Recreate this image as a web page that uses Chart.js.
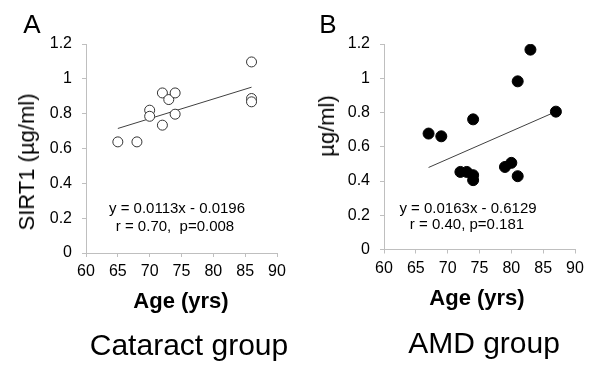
<!DOCTYPE html>
<html>
<head>
<meta charset="utf-8">
<script src="https://cdn.jsdelivr.net/npm/chart.js@4"></script>
<style>
  html, body { margin:0; padding:0; background:#fff; }
  #wrap { position:relative; width:600px; height:369px; overflow:hidden; font-family:"Liberation Sans", Arial, sans-serif; color:#000; }
  canvas { position:absolute; top:0; }
  .t { position:absolute; transform:translate(-50%,-50%); white-space:pre; line-height:1; }
  .rot { position:absolute; transform:translate(-50%,-50%) rotate(-90deg); white-space:pre; line-height:1; }
</style>
</head>
<body>
<div id="wrap">
  <canvas id="cA" width="300" height="369" style="left:0"></canvas>
  <canvas id="cB" width="300" height="369" style="left:300px"></canvas>
  <div class="t" style="left:32px;top:24px;font-size:26px;">A</div>
  <div class="t" style="left:328px;top:24px;font-size:26px;">B</div>
  <div class="rot" style="left:27px;top:162px;font-size:22px;">SIRT1 (µg/ml)</div>
  <div class="rot" style="left:327px;top:126px;font-size:22px;">µg/ml)</div>
  <div class="t" style="left:177px;top:207px;font-size:15px;">y = 0.0113x - 0.0196</div>
  <div class="t" style="left:175px;top:225px;font-size:15px;">r = 0.70,  p=0.008</div>
  <div class="t" style="left:468px;top:207px;font-size:15px;">y = 0.0163x - 0.6129</div>
  <div class="t" style="left:467px;top:223px;font-size:15px;">r = 0.40, p=0.181</div>
  <div class="t" style="left:181px;top:301px;font-size:22px;font-weight:bold;">Age (yrs)</div>
  <div class="t" style="left:477px;top:298px;font-size:22px;font-weight:bold;">Age (yrs)</div>
  <div class="t" style="left:189px;top:345px;font-size:30px;">Cataract group</div>
  <div class="t" style="left:484px;top:343px;font-size:30px;">AMD group</div>
</div>
<script>
// ---- data ----
const ageA  = [65, 68, 70, 70, 72, 72, 73, 74, 74, 86, 86, 86];
const sirtA = [0.638, 0.638, 0.82, 0.785, 0.919, 0.734, 0.881, 0.919, 0.797, 1.097, 0.887, 0.868];
const trendAgeA  = [65, 86];
const trendSirtA = [0.715, 0.952];

const ageB  = [67, 69, 74, 72, 73, 74, 74, 79, 80, 81, 81, 83, 87];
const sirtB = [0.677, 0.661, 0.760, 0.453, 0.453, 0.434, 0.405, 0.482, 0.506, 0.428, 0.982, 1.167, 0.805];
const trendAgeB  = [67, 87];
const trendSirtB = [0.479, 0.805];

const xMin = 60, xMax = 90, xStep = 5;
const yMin = 0, yMax = 1.2, yStep = 0.2;

const FONT = '"Liberation Sans", Arial, sans-serif';
const AXIS = '#bfbfbf';

function pts(xs, ys) { return xs.map((x, i) => ({ x: x, y: ys[i] })); }

function makeChart(id, xs, ys, txs, tys, filled, geom) {
  new Chart(document.getElementById(id), {
    type: 'scatter',
    data: {
      datasets: [
        {
          type: 'line',
          data: pts(txs, tys),
          borderColor: '#404040',
          borderWidth: 1,
          pointRadius: 0,
          fill: false,
          order: 2
        },
        {
          data: pts(xs, ys),
          pointRadius: filled ? 5.5 : 5,
          pointBackgroundColor: filled ? '#000' : '#fff',
          pointBorderColor: filled ? '#000' : '#333',
          pointBorderWidth: 1,
          order: 1
        }
      ]
    },
    options: {
      responsive: false,
      animation: false,
      layout: { padding: { left: 0, right: geom.right, top: 44, bottom: 0 } },
      plugins: { legend: { display: false }, tooltip: { enabled: false } },
      scales: {
        x: {
          type: 'linear', min: xMin, max: xMax,
          ticks: { stepSize: xStep, padding: 5, color: '#000', font: { size: 16, family: FONT } },
          grid: { drawOnChartArea: false, drawTicks: true, tickLength: 4, color: AXIS },
          border: { color: AXIS },
          afterFit: s => { s.height = geom.xh; }
        },
        y: {
          min: yMin, max: yMax,
          ticks: {
            stepSize: yStep, padding: 10, color: '#000', font: { size: 16, family: FONT },
            callback: v => String(Number(Number(v).toFixed(1)))
          },
          grid: { drawOnChartArea: false, drawTicks: true, tickLength: 4, color: AXIS },
          border: { color: AXIS },
          afterFit: s => { s.width = geom.yw; }
        }
      }
    }
  });
}

makeChart('cA', ageA, sirtA, trendAgeA, trendSirtA, false, { right: 23, xh: 116, yw: 86 });
makeChart('cB', ageB, sirtB, trendAgeB, trendSirtB, true, { right: 25, xh: 119.5, yw: 84 });
</script>
</body>
</html>
